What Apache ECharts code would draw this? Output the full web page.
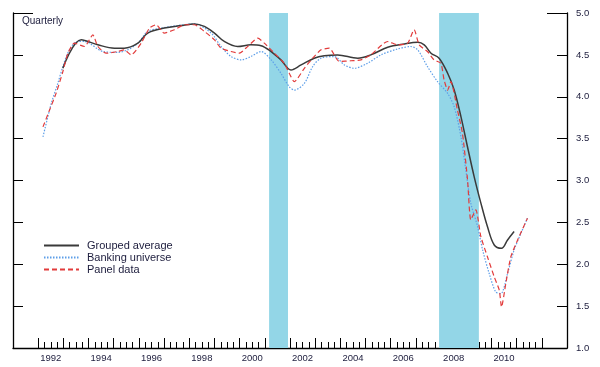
<!DOCTYPE html>
<html>
<head>
<meta charset="utf-8">
<script src="https://cdn.jsdelivr.net/npm/echarts@6/dist/echarts.min.js"></script>
<style>html,body{margin:0;padding:0;background:#fff}#c{width:600px;height:367px}</style>
</head>
<body>
<div id="c"></div>
<script>
// ---- data (decimal years) ----
const groupedDates = [1992.98,1993.71,1994.37,1995.03,1995.42,1995.96,1996.35,1997.01,1997.67,1998.20,1998.60,1999.00,1999.39,1999.92,2000.45,2000.85,2001.25,2001.64,2002.04,2002.44,2002.96,2003.36,2003.89,2004.69,2005.21,2005.88,2006.54,2007.07,2007.33,2007.60,2007.92,2008.26,2008.52,2008.79,2009.05,2009.31,2009.58,2009.84,2010.11,2010.40,2010.64,2010.90];
const groupedValues = [4.34,4.68,4.62,4.58,4.58,4.64,4.76,4.82,4.85,4.87,4.84,4.76,4.66,4.60,4.62,4.61,4.54,4.44,4.32,4.38,4.46,4.49,4.50,4.46,4.50,4.59,4.63,4.65,4.62,4.52,4.46,4.28,4.08,3.76,3.40,3.05,2.73,2.45,2.23,2.19,2.29,2.39];

const bankingDates = [1992.19,1992.52,1992.78,1992.98,1993.24,1993.57,1993.84,1994.57,1995.16,1995.55,1995.96,1996.35,1996.88,1997.54,1998.20,1998.87,1999.26,1999.66,2000.06,2000.45,2000.85,2001.25,2001.64,2001.97,2002.17,2002.57,2002.90,2003.23,2003.76,2004.16,2004.55,2005.08,2005.61,2006.27,2006.80,2007.07,2007.46,2007.86,2008.26,2008.52,2008.79,2008.98,2009.18,2009.45,2009.65,2009.91,2010.17,2010.37,2010.64,2010.90,2011.17,2011.43];
const bankingValues = [3.52,3.92,4.16,4.36,4.56,4.66,4.66,4.54,4.53,4.56,4.64,4.78,4.82,4.85,4.87,4.76,4.60,4.48,4.44,4.48,4.54,4.44,4.28,4.12,4.08,4.16,4.36,4.46,4.48,4.38,4.34,4.40,4.50,4.57,4.60,4.56,4.36,4.18,4.04,3.88,3.52,3.13,2.73,2.45,2.17,1.89,1.67,1.65,1.89,2.17,2.37,2.55];

const panelDates = [1992.19,1992.45,1992.71,1992.98,1993.18,1993.44,1993.84,1994.17,1994.37,1994.70,1995.16,1995.42,1995.69,1996.09,1996.42,1996.68,1997.01,1997.41,1997.81,1998.20,1998.60,1999.00,1999.26,1999.66,1999.99,2000.32,2000.72,2000.98,2001.38,2001.77,2001.97,2002.17,2002.57,2002.90,2003.23,2003.56,2003.96,2004.42,2004.82,2005.21,2005.88,2006.27,2006.67,2006.93,2007.13,2007.46,2007.72,2007.99,2008.12,2008.26,2008.39,2008.65,2008.85,2009.05,2009.18,2009.38,2009.58,2009.84,2010.11,2010.31,2010.40,2010.57,2010.77,2011.04,2011.43];
const panelValues = [3.64,3.84,4.04,4.30,4.52,4.64,4.60,4.74,4.60,4.52,4.54,4.56,4.50,4.64,4.82,4.86,4.76,4.80,4.86,4.86,4.78,4.68,4.58,4.54,4.52,4.60,4.70,4.64,4.52,4.40,4.28,4.18,4.34,4.46,4.56,4.58,4.42,4.43,4.44,4.50,4.66,4.62,4.64,4.80,4.62,4.54,4.44,4.40,4.20,4.08,4.18,3.84,3.56,3.01,2.53,2.65,2.33,2.09,1.85,1.69,1.49,1.77,2.09,2.29,2.55];

const recessions = [[2001.17, 2001.92], [2007.92, 2009.5]];

const seriesNames = ['Grouped average', 'Banking universe', 'Panel data'];
const yearTicks = [1992,1993,1994,1995,1996,1997,1998,1999,2000,2001,2002,2003,2004,2005,2006,2007,2008,2009,2010,2011,2012];
const yearLabels = [1992,1994,1996,1998,2000,2002,2004,2006,2008,2010];
const yTicks = [1.0,1.5,2.0,2.5,3.0,3.5,4.0,4.5];
const yLabels = [1.0,1.5,2.0,2.5,3.0,3.5,4.0,4.5,5.0];

// ---- derived ----
const quarterTicks = [];
yearTicks.slice(0, -1).forEach(y => { quarterTicks.push(y + 0.25, y + 0.5, y + 0.75); });
const labelPositions = yearLabels.map(y => y + 0.5);
const pairs = (d, v) => d.map((t, i) => [t, v[i]]);

const FONT = '"Liberation Sans", Arial, sans-serif';
const TXT = '#1c1c3c';
const axisLineStyle = { color: '#000', width: 1.3 };

function yAx(pos, ticks, len, showLine, labels) {
  return {
    type: 'value', position: pos, min: 1, max: 5, interval: 0.5,
    axisLine: { show: showLine, lineStyle: axisLineStyle },
    axisTick: { show: true, inside: true, length: len, customValues: ticks, lineStyle: { color: '#000', width: 1 } },
    axisLabel: labels ? { show: true, customValues: yLabels, formatter: v => v.toFixed(1), fontSize: 9.5, fontFamily: FONT, color: TXT, margin: 9 } : { show: false },
    splitLine: { show: false }
  };
}

const chart = echarts.init(document.getElementById('c'), null, { renderer: 'canvas' });
chart.setOption({
  animation: false,
  backgroundColor: '#fff',
  title: { text: 'Quarterly', left: 22, top: 16, padding: 0, textStyle: { fontSize: 10, fontWeight: 'normal', fontFamily: FONT, color: TXT } },
  grid: { left: 13, right: 33, top: 13, bottom: 19 },
  legend: {
    data: seriesNames, orient: 'vertical', left: 43, top: 240, padding: 0,
    itemWidth: 35, itemHeight: 10, itemGap: 1,
    itemStyle: { opacity: 0 },
    textStyle: { fontSize: 11, fontFamily: FONT, color: TXT, padding: [0, 0, 0, 3] }
  },
  xAxis: [
    {
      type: 'value', min: 1991, max: 2013, position: 'bottom',
      axisLine: { lineStyle: axisLineStyle },
      axisTick: { inside: true, length: 10, customValues: yearTicks, lineStyle: { color: '#000', width: 1 } },
      axisLabel: { customValues: labelPositions, formatter: v => String(Math.floor(v)), fontSize: 9.5, fontFamily: FONT, color: TXT, margin: 5 },
      splitLine: { show: false }
    },
    {
      type: 'value', min: 1991, max: 2013, position: 'bottom',
      axisLine: { show: false },
      axisTick: { inside: true, length: 6, customValues: quarterTicks, lineStyle: { color: '#000', width: 1 } },
      axisLabel: { show: false },
      splitLine: { show: false }
    }
  ],
  yAxis: [
    yAx('right', yTicks, 10, true, true),
    yAx('right', [5], 20, false, false),
    yAx('left', yTicks, 10, true, false),
    yAx('left', [5], 20, false, false)
  ],
  series: [
    {
      name: seriesNames[0], type: 'line', xAxisIndex: 0, yAxisIndex: 0,
      data: pairs(groupedDates, groupedValues), symbol: 'none', smooth: 0.35,
      lineStyle: { color: '#3a3a3a', width: 1.5 }, itemStyle: { color: '#3a3a3a' }, z: 4,
      markArea: {
        silent: true,
        itemStyle: { color: '#93d6e7' },
        data: recessions.map(r => [{ xAxis: r[0] }, { xAxis: r[1] }])
      }
    },
    {
      name: seriesNames[1], type: 'line', xAxisIndex: 0, yAxisIndex: 0,
      data: pairs(bankingDates, bankingValues), symbol: 'none', smooth: 0.3,
      lineStyle: { color: '#5d9ee8', width: 1.2, type: [1.5, 1.5] }, itemStyle: { color: '#5d9ee8' }, z: 3
    },
    {
      name: seriesNames[2], type: 'line', xAxisIndex: 0, yAxisIndex: 0,
      data: pairs(panelDates, panelValues), symbol: 'none', smooth: 0.2,
      lineStyle: { color: '#e23b3b', width: 1.2, type: [5, 3] }, itemStyle: { color: '#e23b3b' }, z: 5
    }
  ]
});
</script>
</body>
</html>
